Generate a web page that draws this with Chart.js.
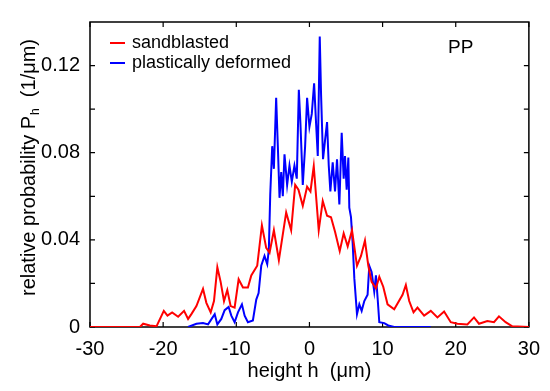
<!DOCTYPE html>
<html><head><meta charset="utf-8">
<script src="https://cdn.jsdelivr.net/npm/chart.js@4/dist/chart.umd.min.js"></script>
<style>html,body{margin:0;padding:0;background:#fff}#wrap{width:550px;height:391px}</style>
</head><body><div id="wrap"><canvas id="c" width="550" height="391"></canvas></div>
<script>
const xTicks = [-30,-20,-10,0,10,20,30];
const yTicks = [0,0.04,0.08,0.12];
const yMinorTicks = [0.02,0.06,0.10];
const seriesNames = ["sandblasted","plastically deformed"];

const hRed = [-30,-23.18,-22.73,-21.82,-20.91,-19.91,-19.41,-18.77,-17.95,-17.14,-16.59,-16.14,-15.45,-14.55,-14.09,-13.5,-13.05,-12.59,-12.14,-11.68,-11.23,-10.77,-10.23,-9.68,-9.09,-8.41,-7.95,-7.14,-6.5,-5.91,-5.45,-4.86,-4.18,-3.18,-2.5,-1.95,-1.5,-0.91,-0.32,0.14,0.59,1.27,1.82,2.41,2.95,3.5,4.14,4.68,5.23,5.82,6.5,7.05,7.59,8.05,8.5,9.09,9.55,10.09,10.68,11.59,12.73,13.18,13.64,14.23,14.77,15.68,16.59,17.5,18.41,19.32,20.23,21.59,22.5,23.18,24.32,25.23,25.91,26.82,27.73,30];
const pRed = [0,0,0.0015,0.0007,0.0003,0.0074,0.0052,0.0067,0.0047,0.0074,0.0037,0.0059,0.0096,0.0175,0.0111,0.0067,0.0119,0.0274,0.0207,0.0119,0.017,0.0096,0.0089,0.0219,0.0181,0.0181,0.0237,0.0281,0.0467,0.0363,0.0341,0.0444,0.0307,0.0526,0.0444,0.0652,0.063,0.0556,0.0644,0.0622,0.0738,0.0444,0.0578,0.0511,0.0504,0.0437,0.0348,0.043,0.037,0.0444,0.0281,0.0326,0.0397,0.0281,0.0207,0.0178,0.023,0.0185,0.0104,0.0081,0.0148,0.0193,0.0119,0.0067,0.0089,0.0052,0.0074,0.0044,0.0071,0.0022,0.0015,0.0012,0.0044,0.0015,0.0027,0.0022,0.0049,0.0022,0.0003,0];

const hBlue = [-16.59,-15.45,-14.55,-13.86,-12.95,-12.59,-12.05,-11.59,-11.05,-10.68,-10.23,-9.77,-9.23,-8.86,-8.41,-7.73,-7.27,-6.95,-6.59,-6.14,-5.77,-5.55,-5.36,-5.09,-4.86,-4.55,-4.32,-4.09,-3.86,-3.64,-3.41,-3.05,-2.73,-2.41,-2.05,-1.73,-1.45,-1.23,-0.91,-0.59,-0.32,0,0.32,0.64,0.91,1.14,1.41,1.59,1.86,2.14,2.41,2.64,2.86,3.18,3.5,3.77,4.09,4.41,4.68,4.86,5.09,5.32,5.45,5.68,5.91,6.14,6.5,6.82,7.14,7.5,7.95,8.18,8.5,8.86,9.09,9.32,9.55,10.23,10.77,11.59,16.59];
const pBlue = [0,0.0015,0.0018,0.0012,0.0059,0.0012,0.0037,0.0077,0.0092,0.0052,0.0022,0.0067,0.0104,0.0052,0.0022,0.003,0.0126,0.0156,0.0281,0.0326,0.0289,0.0356,0.0607,0.083,0.0726,0.1052,0.083,0.0593,0.0711,0.06,0.0793,0.0652,0.0741,0.0667,0.0741,0.0681,0.1089,0.0933,0.0652,0.083,0.1052,0.0919,0.0978,0.1119,0.0933,0.0785,0.1333,0.1067,0.077,0.0859,0.0941,0.0741,0.0622,0.0756,0.0622,0.077,0.0563,0.0892,0.0681,0.0785,0.063,0.0778,0.0548,0.0504,0.0385,0.0222,0.0059,0.0104,0.0074,0.0119,0.0148,0.0281,0.0252,0.0163,0.0237,0.0133,0.0022,0.0018,0.0007,0,0];

const RED = '#ff0000', BLUE = '#0000ff';
const FONT = '"Liberation Sans", Arial, Helvetica, sans-serif';

function pts(h, p){ return h.map((v,i)=>({x:v,y:p[i]})); }

const framePlugin = {
  id:'frame',
  beforeDatasetsDraw(chart){
    const {ctx, chartArea:a, scales:{x,y}} = chart;
    ctx.save();
    ctx.strokeStyle = '#000'; ctx.lineWidth = 1.5;
    ctx.strokeRect(a.left, a.top, a.right-a.left, a.bottom-a.top);
    ctx.lineWidth = 1.2;
    ctx.beginPath();
    const tl = 5;
    xTicks.forEach(v=>{ const px = x.getPixelForValue(v);
      ctx.moveTo(px,a.bottom); ctx.lineTo(px,a.bottom-tl);
      ctx.moveTo(px,a.top); ctx.lineTo(px,a.top+tl); });
    yTicks.concat(yMinorTicks).forEach(v=>{ const py = y.getPixelForValue(v);
      ctx.moveTo(a.left,py); ctx.lineTo(a.left+tl,py);
      ctx.moveTo(a.right,py); ctx.lineTo(a.right-tl,py); });
    ctx.stroke();
    ctx.restore();
  },
  afterDraw(chart){
    const {ctx} = chart;
    ctx.save();
    ctx.lineWidth = 2;
    const rows = [[RED, seriesNames[0], 43],[BLUE, seriesNames[1], 63]];
    ctx.font = '18px ' + FONT; ctx.textBaseline = 'middle'; ctx.fillStyle = '#000';
    rows.forEach(([c,t,yy])=>{
      ctx.strokeStyle = c; ctx.beginPath(); ctx.moveTo(110,yy); ctx.lineTo(125,yy); ctx.stroke();
      ctx.fillText(t, 132, yy);
    });
    ctx.font = '19px ' + FONT; ctx.textAlign = 'left';
    ctx.fillText('PP', 448, 48);
    ctx.translate(28, 168);
    ctx.rotate(-Math.PI/2);
    const big = '20px ' + FONT, small = '12px ' + FONT;
    const s1 = 'relative probability P', s2 = 'h', s3 = '  (1/\u03bcm)';
    ctx.font = big; const w1 = ctx.measureText(s1).width, w3 = ctx.measureText(s3).width;
    ctx.font = small; const w2 = ctx.measureText(s2).width;
    let cx = -(w1+w2+w3)/2;
    ctx.textBaseline = 'alphabetic';
    ctx.font = big; ctx.fillText(s1, cx, 7); cx += w1;
    ctx.font = small; ctx.fillText(s2, cx+1, 11); cx += w2 + 1;
    ctx.font = big; ctx.fillText(s3, cx, 7);
    ctx.restore();
  }
};

new Chart(document.getElementById('c'), {
  type:'line',
  data:{ datasets:[
    {label:seriesNames[0], data:pts(hRed,pRed), borderColor:RED, borderWidth:2, pointRadius:0, tension:0, fill:false},
    {label:seriesNames[1], data:pts(hBlue,pBlue), borderColor:BLUE, borderWidth:2, pointRadius:0, tension:0, fill:false}
  ]},
  options:{
    responsive:false, animation:false, devicePixelRatio:1,
    layout:{padding:{top:11,right:20,left:0,bottom:0}},
    plugins:{legend:{display:false}, tooltip:{enabled:false}},
    scales:{
      x:{type:'linear', min:-30, max:30,
        grid:{display:false, drawTicks:false}, border:{display:false},
        afterBuildTicks(s){ s.ticks = xTicks.map(v=>({value:v})); },
        afterFit(s){ s.height = 64; },
        ticks:{color:'#000', font:{family:FONT, size:20}, padding:10, maxRotation:0, callback:v=>String(v)},
        title:{display:true, text:'height h  (\u03bcm)', color:'#000', font:{family:FONT, size:20}, padding:{top:0,bottom:8}}
      },
      y:{type:'linear', min:0, max:0.14,
        grid:{display:false, drawTicks:false}, border:{display:false},
        afterBuildTicks(s){ s.ticks = yTicks.map(v=>({value:v})); },
        afterFit(s){ s.width = 90; },
        ticks:{color:'#000', font:{family:FONT, size:20}, padding:10, callback:v=> v===0 ? '0' : v.toFixed(2)}
      }
    }
  },
  plugins:[framePlugin]
});
</script></body></html>
